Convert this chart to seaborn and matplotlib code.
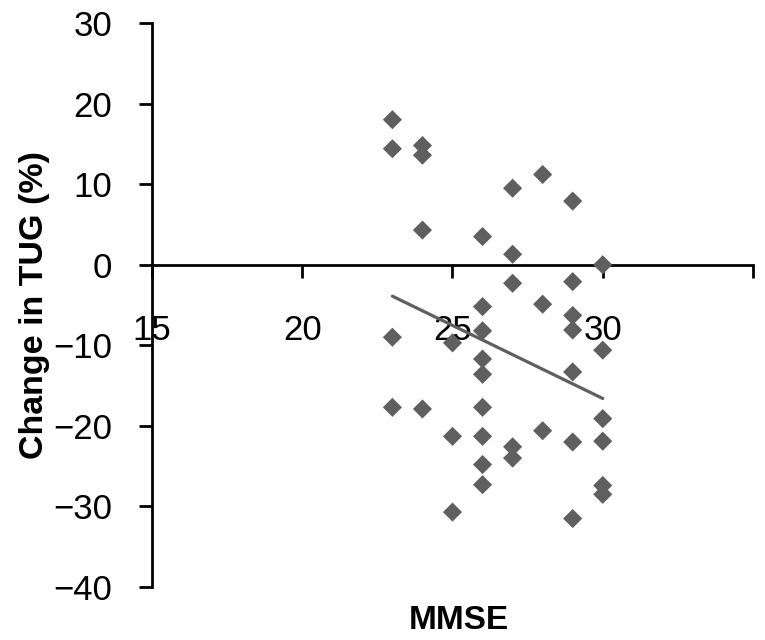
import pandas as pd
import seaborn as sns
import matplotlib.pyplot as plt

# values (MMSE score vs change in TUG)
mmse = [23, 23, 23, 23,
        24, 24, 24, 24,
        25, 25, 25,
        26, 26, 26, 26, 26, 26, 26, 26, 26,
        27, 27, 27, 27, 27,
        28, 28, 28,
        29, 29, 29, 29, 29, 29, 29,
        30, 30, 30, 30, 30, 30]
tug_change = [18.0, 14.4, -9.0, -17.7,
              14.8, 13.6, 4.3, -17.9,
              -9.7, -21.3, -30.7,
              3.5, -5.2, -8.2, -11.7, -13.6, -17.7, -21.3, -24.8, -27.3,
              9.5, 1.3, -2.3, -22.6, -24.0,
              11.2, -4.9, -20.6,
              7.9, -2.1, -6.3, -8.1, -13.3, -22.0, -31.5,
              0.0, -10.6, -19.1, -21.9, -27.4, -28.5]

# linear trend line as drawn in the reference
trend_x = [23, 30]
trend_y = [-3.9, -16.6]

x_ticks = [15, 20, 25, 30, 35]
x_tick_labels = ["15", "20", "25", "30", ""]
y_ticks = [-40, -30, -20, -10, 0, 10, 20, 30]

df = pd.DataFrame({"MMSE": mmse, "TUG": tug_change})

sns.set_style("white")
plt.rcParams['font.family'] = ['Liberation Sans', 'DejaVu Sans']
plt.rcParams['text.color'] = 'black'

fig = plt.figure(figsize=(7.65, 6.4), dpi=100)
ax = fig.add_axes([0.1987, 0.0828, 0.7856, 0.8812])

grey = "#5f5f5f"
sns.lineplot(x=trend_x, y=trend_y, color=grey, linewidth=2.3, ax=ax, zorder=2)
sns.scatterplot(data=df, x="MMSE", y="TUG", marker="D", s=95, color=grey,
                edgecolor="none", linewidth=0, ax=ax, zorder=3, clip_on=False)

ax.set_xlim(15, 35)
ax.set_ylim(-40, 30)

ax.spines["top"].set_visible(False)
ax.spines["right"].set_visible(False)
ax.spines["bottom"].set_position(("data", 0))
for s in ["left", "bottom"]:
    ax.spines[s].set_linewidth(2)
    ax.spines[s].set_color("black")

ax.set_xticks(x_ticks)
ax.set_xticklabels(x_tick_labels)
ax.set_yticks(y_ticks)
ax.tick_params(axis="x", direction="out", length=9.5, width=2, pad=26,
               labelsize=25, bottom=True, colors="black")
ax.tick_params(axis="y", direction="out", length=9.5, width=2, pad=19,
               labelsize=25, left=True, colors="black")

ax.set_xlabel("MMSE", fontsize=24, fontweight="bold", color="black")
ax.set_ylabel("Change in TUG (%)", fontsize=24.5, fontweight="bold",
              color="black")
ax.xaxis.set_label_coords(0.51, -0.032)
ax.yaxis.set_label_coords(-0.17, 0.5)

plt.savefig("out.png", dpi=100)
